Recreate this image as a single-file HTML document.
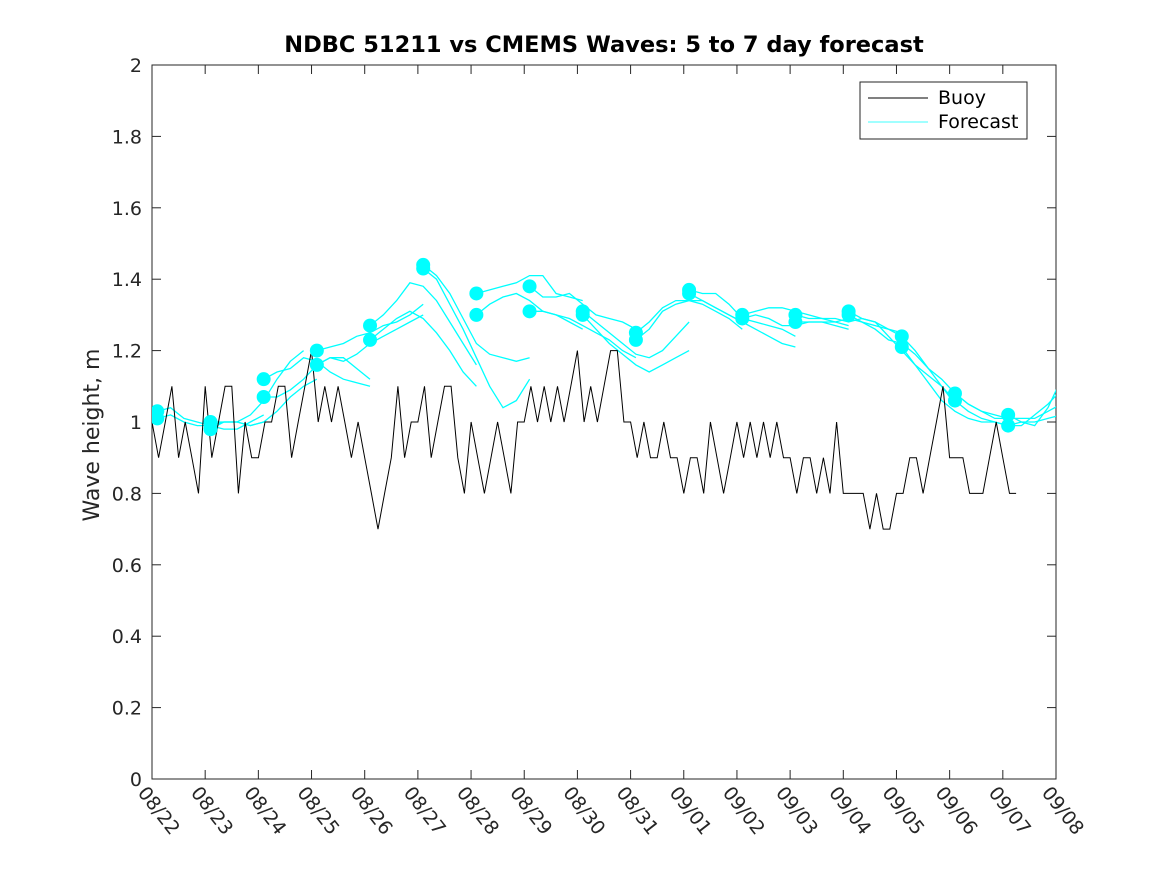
<!DOCTYPE html>
<html><head><meta charset="utf-8"><style>
body{margin:0;background:#fff}
svg{display:block;font-family:"DejaVu Sans","Liberation Sans",sans-serif}
</style></head><body>
<svg id="chart" width="1167" height="875">
<rect width="1167" height="875" fill="#fff"/>
<text x="604" y="52" text-anchor="middle" font-size="22.5" font-weight="bold" fill="#000">NDBC 51211 vs CMEMS Waves: 5 to 7 day forecast</text>
<text transform="translate(99,435) rotate(-90)" text-anchor="middle" font-size="22" fill="#262626">Wave height, m</text>
<defs><clipPath id="pc"><rect x="152" y="65" width="904" height="714"/></clipPath></defs>
<g id="axes"></g>
<g id="fc" clip-path="url(#pc)"></g>
<g id="buoy"></g>
<g id="dots" clip-path="url(#pc)"></g>
<g>
<rect x="860" y="82" width="167" height="57" fill="#fff" stroke="#262626" stroke-width="1"/>
<line x1="868" y1="98" x2="928" y2="98" stroke="#000"/>
<text x="938" y="104" font-size="19" fill="#000">Buoy</text>
<line x1="868" y1="122" x2="928" y2="122" stroke="#00ffff" stroke-width="0.8"/>
<text x="938" y="128" font-size="19" fill="#000">Forecast</text>
</g>
</svg>
<script>
const xTicks=["08/22","08/23","08/24","08/25","08/26","08/27","08/28","08/29","08/30","08/31","09/01","09/02","09/03","09/04","09/05","09/06","09/07","09/08"];
const yTicks=[0,0.2,0.4,0.6,0.8,1,1.2,1.4,1.6,1.8,2];
const buoyStepDays=0.125;
const buoy=[1.0,0.9,1.0,1.1,0.9,1.0,0.9,0.8,
1.1,0.9,1.0,1.1,1.1,0.8,1.0,0.9,
0.9,1.0,1.0,1.1,1.1,0.9,1.0,1.1,
1.2,1.0,1.1,1.0,1.1,1.0,0.9,1.0,
0.9,0.8,0.7,0.8,0.9,1.1,0.9,1.0,
1.0,1.1,0.9,1.0,1.1,1.1,0.9,0.8,
1.0,0.9,0.8,0.9,1.0,0.9,0.8,1.0,
1.0,1.1,1.0,1.1,1.0,1.1,1.0,1.1,
1.2,1.0,1.1,1.0,1.1,1.2,1.2,1.0,
1.0,0.9,1.0,0.9,0.9,1.0,0.9,0.9,
0.8,0.9,0.9,0.8,1.0,0.9,0.8,0.9,
1.0,0.9,1.0,0.9,1.0,0.9,1.0,0.9,
0.9,0.8,0.9,0.9,0.8,0.9,0.8,1.0,
0.8,0.8,0.8,0.8,0.7,0.8,0.7,0.7,
0.8,0.8,0.9,0.9,0.8,0.9,1.0,1.1,
0.9,0.9,0.9,0.8,0.8,0.8,0.9,1.0,
0.9,0.8,0.8];
const fcStepDays=0.25;
const fcStart=[0.1,0.1,1.1,1.1,2.1,2.1,3.1,3.1,4.1,4.1,5.1,5.1,6.1,6.1,7.1,7.1,8.1,8.1,9.1,9.1,10.1,10.1,11.1,11.1,12.1,12.1,13.1,13.1,14.1,14.1,15.1,15.1,16.1,16.1];
const fcValues=[
[1.03,1.04,1.01,1.00,0.99,1.00,1.00,0.99,1.00],
[1.01,1.02,1.00,0.99,0.99,0.98,0.98,1.00,1.02],
[1.00,1.00,1.00,1.02,1.06,1.12,1.17,1.20],
[0.98,1.00,1.00,0.99,1.00,1.03,1.07,1.10,1.12],
[1.12,1.14,1.15,1.18,1.17,1.14,1.12,1.11,1.10],
[1.07,1.07,1.09,1.12,1.16,1.18,1.18,1.15,1.12],
[1.20,1.21,1.22,1.24,1.25,1.27,1.28,1.30,1.33],
[1.16,1.18,1.17,1.19,1.22,1.24,1.26,1.28,1.30],
[1.27,1.30,1.34,1.39,1.38,1.34,1.28,1.22,1.16],
[1.23,1.26,1.29,1.31,1.29,1.25,1.20,1.14,1.10],
[1.44,1.41,1.36,1.29,1.22,1.19,1.18,1.17,1.18],
[1.43,1.40,1.33,1.26,1.18,1.10,1.04,1.06,1.12],
[1.36,1.37,1.38,1.39,1.41,1.41,1.36,1.35,1.34],
[1.30,1.33,1.35,1.36,1.34,1.31,1.30,1.28,1.26],
[1.38,1.35,1.35,1.36,1.33,1.30,1.29,1.28,1.26],
[1.31,1.31,1.30,1.29,1.27,1.25,1.23,1.20,1.18],
[1.31,1.28,1.25,1.22,1.19,1.18,1.20,1.24,1.28],
[1.30,1.26,1.22,1.19,1.16,1.14,1.16,1.18,1.20],
[1.25,1.28,1.32,1.34,1.34,1.34,1.32,1.30,1.28],
[1.23,1.26,1.31,1.33,1.34,1.33,1.31,1.29,1.26],
[1.37,1.36,1.36,1.33,1.29,1.28,1.27,1.26,1.24],
[1.36,1.34,1.32,1.30,1.28,1.26,1.24,1.22,1.21],
[1.30,1.31,1.32,1.32,1.31,1.30,1.29,1.28,1.27],
[1.29,1.30,1.29,1.27,1.27,1.28,1.28,1.27,1.26],
[1.30,1.29,1.29,1.29,1.28,1.29,1.28,1.26,1.25],
[1.28,1.28,1.28,1.28,1.29,1.28,1.27,1.26,1.24],
[1.31,1.29,1.28,1.24,1.20,1.16,1.13,1.10,1.06],
[1.30,1.28,1.26,1.23,1.22,1.19,1.15,1.10,1.05],
[1.24,1.20,1.15,1.12,1.08,1.05,1.03,1.02,1.01],
[1.21,1.16,1.11,1.06,1.03,1.01,1.00,1.00,0.99],
[1.08,1.05,1.03,1.01,1.01,1.01,1.01,1.03,1.05],
[1.06,1.03,1.01,1.00,0.99,1.00,1.00,1.01,1.02],
[1.02,1.00,0.99,1.04,1.12],
[0.99,0.99,1.02,1.05,1.09]];

const X0=152,X1=1056,Y0=779,Y1=65;
const xs=d=>X0+(X1-X0)*d/17;
const ys=v=>Y0-(Y0-Y1)*v/2;
const NS="http://www.w3.org/2000/svg";
function mk(tag,parent,attrs){const e=document.createElementNS(NS,tag);for(const k in attrs)e.setAttribute(k,attrs[k]);parent.appendChild(e);return e;}
const ax=document.getElementById('axes');
const frame=mk('rect',ax,{x:X0,y:Y1,width:X1-X0,height:Y0-Y1,fill:'none',stroke:'#262626','stroke-width':1});


yTicks.forEach(v=>{const y=ys(v);
 mk('line',ax,{x1:X0,x2:X0+9,y1:y,y2:y,stroke:'#262626'});
 mk('line',ax,{x1:X1,x2:X1-9,y1:y,y2:y,stroke:'#262626'});
 const t=mk('text',ax,{x:X0-10,y:y+7,'text-anchor':'end','font-size':19,fill:'#262626'});
 t.textContent=String(v);
 
 
});
xTicks.forEach((s,i)=>{const x=xs(i);
 mk('line',ax,{x1:x,x2:x,y1:Y0,y2:Y0-9,stroke:'#262626'});
 mk('line',ax,{x1:x,x2:x,y1:Y1,y2:Y1+9,stroke:'#262626'});
 const t=mk('text',ax,{transform:`translate(${x-15},${Y0+14}) rotate(52)`,'font-size':19,fill:'#262626'});
 t.textContent=s;
 
 
});
const fc=document.getElementById('fc'),dots=document.getElementById('dots');
fcValues.forEach((vals,i)=>{
 const pts=vals.map((v,j)=>xs(fcStart[i]+j*fcStepDays).toFixed(1)+','+ys(v).toFixed(1)).join(' ');
 const p=mk('polyline',fc,{points:pts,fill:'none',stroke:'#00ffff','stroke-width':1.3});
 
 
 const c=mk('ellipse',dots,{cx:xs(fcStart[i]),cy:ys(vals[0]),rx:7,ry:7,fill:'#00ffff'});
 
 
});
const bp=buoy.map((v,j)=>xs(j*buoyStepDays).toFixed(1)+','+ys(v).toFixed(1)).join(' ');
const bl=mk('polyline',document.getElementById('buoy'),{points:bp,fill:'none',stroke:'#000','stroke-width':1});


</script>
</body></html>
